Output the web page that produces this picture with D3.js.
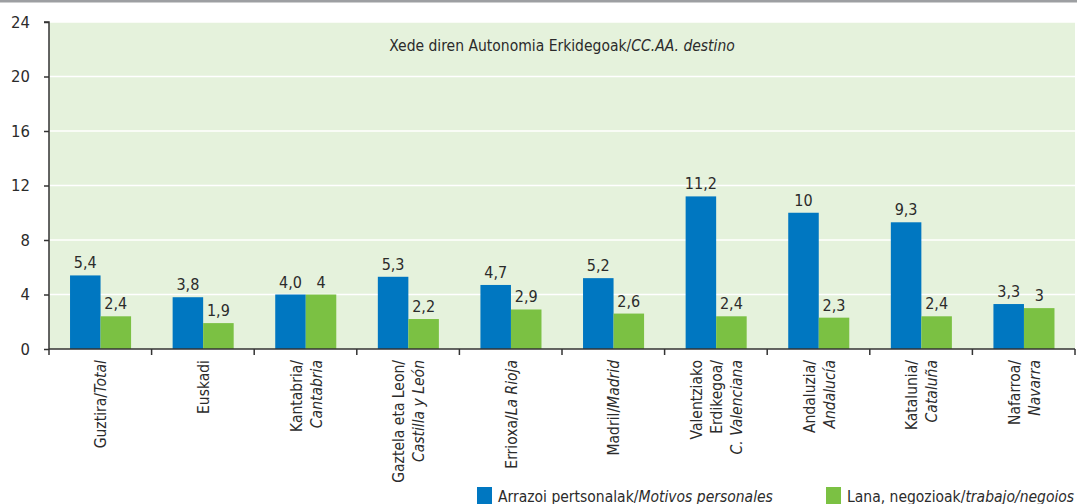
<!DOCTYPE html>
<html>
<head>
<meta charset="utf-8">
<script src="https://cdn.jsdelivr.net/npm/d3@7"></script>
<style>
  body { margin: 0; background: #fff; }
  text { font-family: "Liberation Sans Narrow", "DejaVu Sans Condensed", "Roboto", sans-serif; fill: #2b2b2b; }
</style>
</head>
<body>
<div id="chart"></div>
<script>
// categories: each line is [normal part, italic part]
var categories = [
  [["Guztira/", "Total"]],
  [["Euskadi", ""]],
  [["Kantabria/", ""], ["", "Cantabria"]],
  [["Gaztela eta Leon/", ""], ["", "Castilla y León"]],
  [["Errioxa/", "La Rioja"]],
  [["Madril/", "Madrid"]],
  [["Valentziako", ""], ["Erdikegoa/", ""], ["", "C. Valenciana"]],
  [["Andaluzia/", ""], ["", "Andalucía"]],
  [["Katalunia/", ""], ["", "Cataluña"]],
  [["Nafarroa/", ""], ["", "Navarra"]]
];
var personal = [5.4, 3.8, 4.0, 5.3, 4.7, 5.2, 11.2, 10, 9.3, 3.3];
var personalLabels = ["5,4", "3,8", "4,0", "5,3", "4,7", "5,2", "11,2", "10", "9,3", "3,3"];
var work = [2.4, 1.9, 4, 2.2, 2.9, 2.6, 2.4, 2.3, 2.4, 3];
var workLabels = ["2,4", "1,9", "4", "2,2", "2,9", "2,6", "2,4", "2,3", "2,4", "3"];
var yTicks = [0, 4, 8, 12, 16, 20, 24];
var series = [
  { name: "Arrazoi pertsonalak/", italic: "Motivos personales", color: "#0077c1", values: personal, labels: personalLabels },
  { name: "Lana, negozioak/", italic: "trabajo/negoios", color: "#7bc143", values: work, labels: workLabels }
];

var W = 1077, H = 504;
var mLeft = 49, mRight = 1075, mTop = 22, mBottom = 349;
var fs = 15.5;

var svg = d3.select("#chart").append("svg")
  .attr("width", W).attr("height", H);

// grey rule at the very top
svg.append("rect").attr("x", 0).attr("y", 0).attr("width", W).attr("height", 2.5).attr("fill", "#9d9fa2");

var x = d3.scaleBand().domain(d3.range(categories.length)).range([mLeft, mRight]);
var x1 = d3.scaleBand().domain([0, 1]).range([x.bandwidth() * 0.205, x.bandwidth() * 0.8]);
var y = d3.scaleLinear().domain([0, 24]).range([mBottom, mTop]);

svg.append("rect").attr("x", mLeft).attr("y", mTop)
  .attr("width", mRight - mLeft).attr("height", mBottom - mTop).attr("fill", "#e5f2dc");

// gridlines
svg.selectAll(".grid").data(yTicks.slice(1)).enter().append("line")
  .attr("x1", mLeft).attr("x2", mRight)
  .attr("y1", function(d) { return y(d); }).attr("y2", function(d) { return y(d); })
  .attr("stroke", "#fff").attr("stroke-width", 1.5);

// bars
var groups = svg.selectAll(".group").data(categories).enter().append("g")
  .attr("transform", function(d, i) { return "translate(" + x(i) + ",0)"; });

series.forEach(function(s, si) {
  groups.append("rect")
    .attr("x", x1(si))
    .attr("width", x1.bandwidth())
    .attr("y", function(d, i) { return y(s.values[i]); })
    .attr("height", function(d, i) { return mBottom - y(s.values[i]); })
    .attr("fill", s.color);
  groups.append("text")
    .attr("x", x1(si) + x1.bandwidth() / 2)
    .attr("y", function(d, i) { return y(s.values[i]) - 7; })
    .attr("text-anchor", "middle")
    .attr("font-size", fs + 0.5)
    .text(function(d, i) { return s.labels[i]; });
});

// y axis
var yAxis = d3.axisLeft(y).tickValues(yTicks).tickSize(5).tickPadding(14);
var ya = svg.append("g").attr("transform", "translate(" + mLeft + ",0)").call(yAxis);
ya.select(".domain").attr("stroke", "#333").attr("stroke-width", 1.5).attr("d", "M-5," + mTop + "H0V" + mBottom);
ya.selectAll("line").attr("stroke", "#333").attr("stroke-width", 1.5);
ya.selectAll("text").attr("font-size", fs + 1).attr("fill", "#2b2b2b")
  .style("font-family", '"Liberation Sans Narrow", "DejaVu Sans Condensed", sans-serif');

// x axis line and boundary ticks
svg.append("line").attr("x1", mLeft).attr("x2", mRight).attr("y1", mBottom).attr("y2", mBottom)
  .attr("stroke", "#333").attr("stroke-width", 1.5);
var bounds = d3.range(categories.length + 1).map(function(i) { return mLeft + i * x.step(); });
svg.selectAll(".xt").data(bounds).enter().append("line")
  .attr("x1", function(d) { return d; }).attr("x2", function(d) { return d; })
  .attr("y1", mBottom).attr("y2", mBottom + 6)
  .attr("stroke", "#333").attr("stroke-width", 1.5);

// x labels, rotated
var lineGap = 20;
categories.forEach(function(lines, i) {
  var cx = x(i) + x.bandwidth() / 2;
  lines.forEach(function(ln, li) {
    var off = (li - (lines.length - 1) / 2) * lineGap;
    var t = svg.append("text")
      .attr("transform", "translate(" + (cx + off + 6) + "," + (mBottom + 11) + ") rotate(-90)")
      .attr("text-anchor", "end")
      .attr("font-size", fs);
    t.append("tspan").text(ln[0]);
    if (ln[1]) t.append("tspan").attr("font-style", "italic").text(ln[1]);
  });
});

// title inside plot
var title = svg.append("text").attr("x", 562).attr("y", 51).attr("text-anchor", "middle").attr("font-size", fs);
title.append("tspan").text("Xede diren Autonomia Erkidegoak/");
title.append("tspan").attr("font-style", "italic").text("CC.AA. destino");

// legend
var legX = [477, 826];
series.forEach(function(s, si) {
  var g = svg.append("g").attr("transform", "translate(" + legX[si] + ",487)");
  g.append("rect").attr("width", 15).attr("height", 17).attr("fill", s.color);
  var t = g.append("text").attr("x", 21).attr("y", 15).attr("font-size", fs);
  t.append("tspan").text(s.name);
  t.append("tspan").attr("font-style", "italic").text(s.italic);
});
</script>
</body>
</html>
